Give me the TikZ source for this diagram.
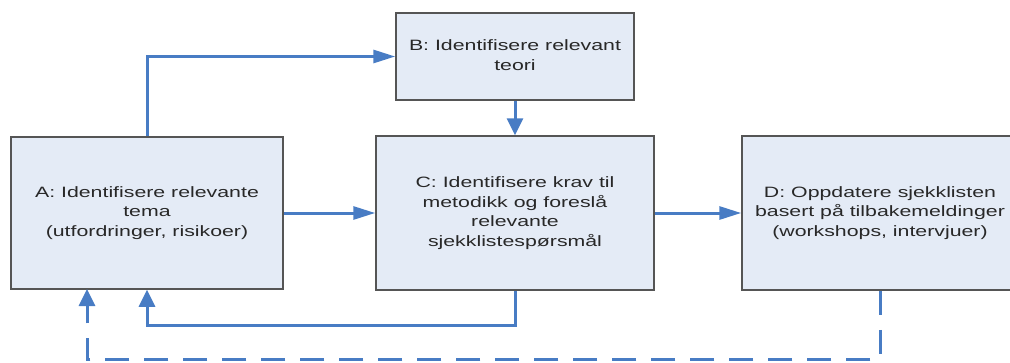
\documentclass[tikz,border=0pt]{standalone}
\usepackage{fontspec}
\setmainfont{Liberation Sans}
\usepackage{graphicx}
\usetikzlibrary{arrows.meta}
\definecolor{boxfill}{RGB}{228,235,246}
\definecolor{boxline}{RGB}{85,85,85}
\definecolor{flow}{RGB}{72,124,196}
\definecolor{txt}{RGB}{40,40,40}
\newcommand\wt[1]{\scalebox{1.42}[1]{\begin{tabular}{@{}c@{}}#1\end{tabular}}}
\tikzset{
  stepbox/.style={draw=boxline, line width=1.5pt, fill=boxfill, inner sep=0pt,
    text=txt, font=\fontsize{15}{19.7}\selectfont},
  conn/.style={draw=flow, line width=3pt},
  arrH/.style={-{Triangle[length=22pt,width=13pt]}},
  arrV/.style={-{Triangle[length=17pt,width=16pt]}},
  fbdash/.style={dash pattern=on 24pt off 15pt}
}
\begin{document}
\begin{tikzpicture}[x=1pt,y=-1pt]
\useasboundingbox (0,0) rectangle (1010,362);
\clip (0,0) rectangle (1010,362);
\node[stepbox, minimum width=272pt, minimum height=152pt] (A) at (147,213)
  {\wt{A: Identifisere relevante\\tema\\(utfordringer, risikoer)}};
\node[stepbox, minimum width=238pt, minimum height=87pt] (B) at (515,56.5)
  {\wt{B: Identifisere relevant\\teori}};
\node[stepbox, minimum width=278pt, minimum height=154pt] (C) at (515,213)
  {\wt{C: Identifisere krav til\\metodikk og foreslå\\relevante\\sjekklistespørsmål}};
\node[stepbox, minimum width=276pt, minimum height=154pt] (D) at (880,213)
  {\wt{D: Oppdatere sjekklisten\\basert på tilbakemeldinger\\(workshops, intervjuer)}};
\coordinate (fb) at (515,325);
\coordinate (db) at (880,359);
\coordinate (Ad) at (87,289);
\draw[conn, arrH] (A.north) |- (B.west);
\draw[conn, arrV] (B.south) -- (C.north);
\draw[conn, arrH] (A.east) -- (C.west);
\draw[conn, arrH] (C.east) -- (D.west);
\draw[conn, arrV] (C.south) -- (fb) -| (A.south);
\draw[conn, fbdash, arrV] (D.south) -- (db) -| (Ad);
\end{tikzpicture}
\end{document}
